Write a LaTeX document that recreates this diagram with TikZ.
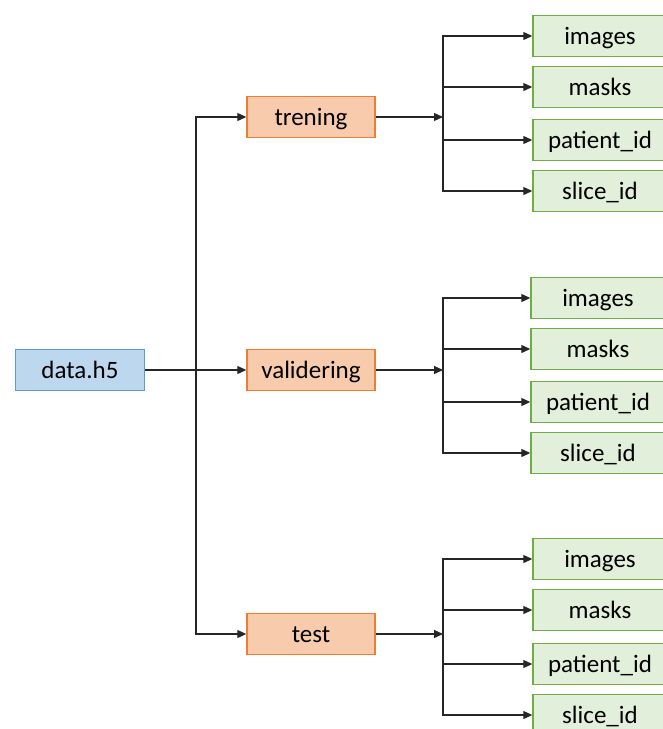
\documentclass[tikz,border=0pt]{standalone}
\usepackage{fontspec}
\setmainfont{Carlito}
\usetikzlibrary{arrows.meta}
\definecolor{rootfill}{HTML}{BDD7EE}
\definecolor{rootline}{HTML}{5B9BD5}
\definecolor{splitfill}{HTML}{F8CBAD}
\definecolor{splitline}{HTML}{ED7D31}
\definecolor{keyfill}{HTML}{E2EFDA}
\definecolor{keyline}{HTML}{70AD47}
\tikzset{
  box/.style={draw, line width=1.4pt, minimum height=41pt, inner sep=0pt,
              text height=19pt, text depth=2pt,
              font=\fontsize{25}{29}\selectfont},
  rootbox/.style={box, fill=rootfill, draw=rootline, minimum width=129pt},
  splitbox/.style={box, fill=splitfill, draw=splitline, minimum width=128pt},
  keybox/.style={box, fill=keyfill, draw=keyline, minimum width=134pt},
  arr/.style={-{Triangle[length=9pt,width=8pt]}, line width=1.1pt, draw=black!85}
}
\begin{document}
\begin{tikzpicture}[x=1pt,y=-1pt]
\useasboundingbox (0,0) rectangle (662,729);

% root file
\node[rootbox] (data) at (80,370) {data.h5};

% dataset splits
\node[splitbox] (tren) at (311,117) {trening};
\node[splitbox] (val)  at (311,370) {validering};
\node[splitbox] (test) at (311,634) {test};

% keys of each split
\node[keybox] (img1) at (600,36)  {images};
\node[keybox] (msk1) at (600,87)  {masks};
\node[keybox] (pid1) at (600,140) {patient\_id};
\node[keybox] (sid1) at (600,191) {slice\_id};

\node[keybox] (img2) at (598,298) {images};
\node[keybox] (msk2) at (598,349) {masks};
\node[keybox] (pid2) at (598,402) {patient\_id};
\node[keybox] (sid2) at (598,453) {slice\_id};

\node[keybox] (img3) at (600,559) {images};
\node[keybox] (msk3) at (600,610) {masks};
\node[keybox] (pid3) at (600,664) {patient\_id};
\node[keybox] (sid3) at (600,715) {slice\_id};

% root to splits
\coordinate (trunk) at (196,370);
\draw[arr] (data) -- (val);
\draw[arr] (trunk) |- (tren);
\draw[arr] (trunk) |- (test);

% splits to keys
\coordinate (b1) at (443,117);
\coordinate (b2) at (443,370);
\coordinate (b3) at (443,634);
\draw[arr] (tren) -- (b1);
\draw[arr] (val)  -- (b2);
\draw[arr] (test) -- (b3);

\foreach \b/\g in {b1/1,b2/2,b3/3}{
  \foreach \k in {img,msk,pid,sid}{
    \draw[arr] (\b) |- (\k\g.west);
  }
}
\end{tikzpicture}
\end{document}
